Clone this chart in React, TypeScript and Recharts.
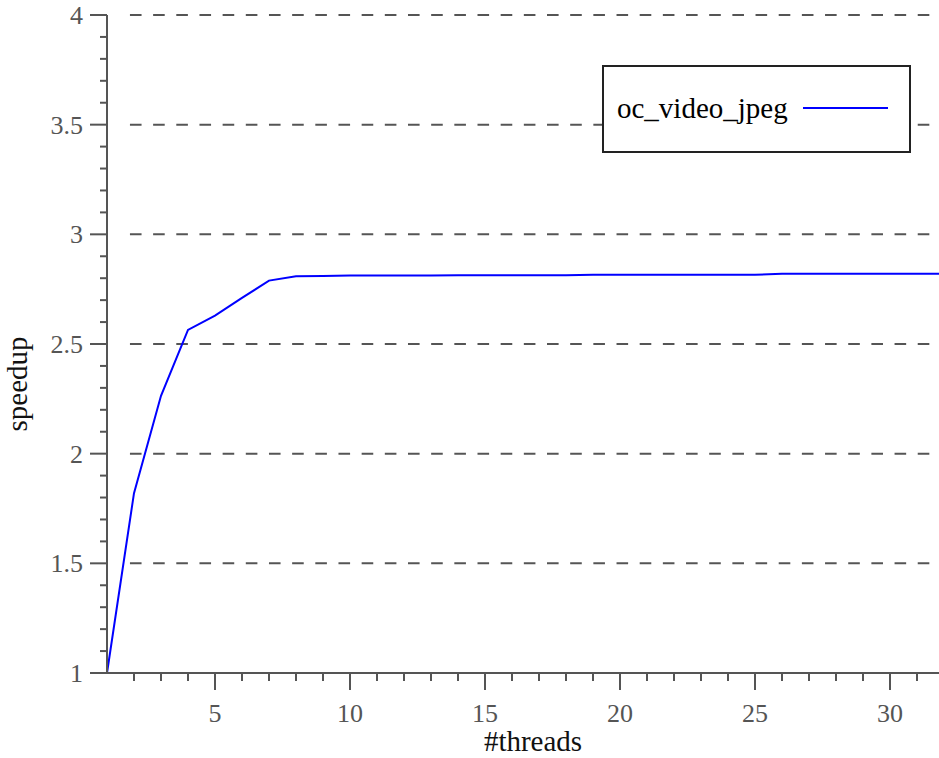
import { LineChart, Line, XAxis, YAxis, ReferenceLine, Legend } from 'recharts';

const threads = [
  1, 2, 3, 4, 5, 6, 7, 8, 9, 10, 11, 12, 13, 14, 15, 16,
  17, 18, 19, 20, 21, 22, 23, 24, 25, 26, 27, 28, 29, 30, 31, 32,
];
const speedup = [
  1.0, 1.82, 2.264, 2.564, 2.629, 2.71, 2.789, 2.809, 2.81, 2.812, 2.812, 2.812, 2.812, 2.814, 2.814, 2.814,
  2.814, 2.814, 2.816, 2.816, 2.816, 2.816, 2.816, 2.816, 2.816, 2.82, 2.82, 2.82, 2.82, 2.82, 2.82, 2.82,
];
const seriesName = 'oc_video_jpeg';

const xTicks = [2, 3, 4, 5, 6, 7, 8, 9, 10, 11, 12, 13, 14, 15, 16, 17, 18, 19, 20, 21, 22, 23, 24, 25, 26, 27, 28, 29, 30, 31];
const xMajor = [5, 10, 15, 20, 25, 30];
const yTicks = Array.from({ length: 31 }, (_, i) => Number((1 + i * 0.1).toFixed(1)));
const yMajor = [1, 1.5, 2, 2.5, 3, 3.5, 4];
const yGrid = [1.5, 2, 2.5, 3, 3.5, 4];

const data = threads.map((t, i) => ({ t, v: speedup[i] }));

const FONT = "'Liberation Serif', 'Times New Roman', 'DejaVu Serif', serif";
const AXIS = '#555';

function XTick(props: any) {
  const { x, y, payload } = props;
  const major = xMajor.includes(payload.value);
  return (
    <g>
      <line x1={x} x2={x} y1={y} y2={y + (major ? 17 : 8)} stroke={AXIS} strokeWidth={2} />
      {major && (
        <text x={x} y={y + 49} textAnchor="middle" fill={AXIS} style={{ fontSize: 26, fontFamily: FONT }}>
          {payload.value}
        </text>
      )}
    </g>
  );
}

function YTick(props: any) {
  const { x, y, payload } = props;
  const major = yMajor.some((m) => Math.abs(m - payload.value) < 1e-6);
  return (
    <g>
      <line x1={x - (major ? 17 : 7)} x2={x} y1={y} y2={y} stroke={AXIS} strokeWidth={2} />
      {major && (
        <text x={x - 24} y={y + 9} textAnchor="end" fill={AXIS} style={{ fontSize: 26, fontFamily: FONT }}>
          {payload.value}
        </text>
      )}
    </g>
  );
}

function LegendBox() {
  return (
    <svg width={309} height={88} style={{ display: 'block' }}>
      <rect x={1} y={1} width={307} height={86} fill="#fff" stroke="#222" strokeWidth={2} />
      <text x={15} y={53} fill="#000" style={{ fontSize: 29, fontFamily: FONT }}>
        {seriesName}
      </text>
      <line x1={201} x2={286} y1={43} y2={43} stroke="#0000ff" strokeWidth={2} />
    </svg>
  );
}

export default function App() {
  return (
    <div style={{ position: 'absolute', left: 0, top: 0, width: 939, height: 758, overflow: 'hidden', background: '#fff' }}>
      <LineChart width={950} height={758} data={data} margin={{ top: 15, right: 6, bottom: 25, left: 0 }}>
        {yGrid.map((g) => (
          <ReferenceLine
            key={g}
            segment={[{ x: 1.85, y: g }, { x: 32, y: g }]}
            stroke={AXIS}
            strokeWidth={2}
            strokeDasharray="11.6 11.57"
          />
        ))}
        <XAxis
          type="number"
          dataKey="t"
          domain={[1, 32]}
          ticks={xTicks}
          interval={0}
          tickSize={0}
          tickMargin={0}
          tick={(p: any) => <XTick {...p} />}
          axisLine={{ stroke: AXIS, strokeWidth: 2 }}
          height={60}
          label={() => (
            <text x={533} y={751} textAnchor="middle" fill="#111" style={{ fontSize: 29, fontFamily: FONT }}>
              #threads
            </text>
          )}
        />
        <YAxis
          type="number"
          domain={[1, 4]}
          ticks={yTicks}
          interval={0}
          tickSize={0}
          tickMargin={0}
          tick={(p: any) => <YTick {...p} />}
          axisLine={{ stroke: AXIS, strokeWidth: 2 }}
          width={107}
          label={() => (
            <text
              x={27}
              y={384}
              transform="rotate(-90 27 384)"
              textAnchor="middle"
              fill="#111"
              style={{ fontSize: 29, fontFamily: FONT }}
            >
              speedup
            </text>
          )}
        />
        <Legend
          layout="vertical"
          align="center"
          verticalAlign="middle"
          content={() => <LegendBox />}
          wrapperStyle={{ position: 'absolute', left: 602, top: 65, width: 309, height: 88 }}
        />
        <Line
          type="linear"
          dataKey="v"
          name={seriesName}
          stroke="#0000ff"
          strokeWidth={2}
          dot={false}
          isAnimationActive={false}
        />
      </LineChart>
    </div>
  );
}
